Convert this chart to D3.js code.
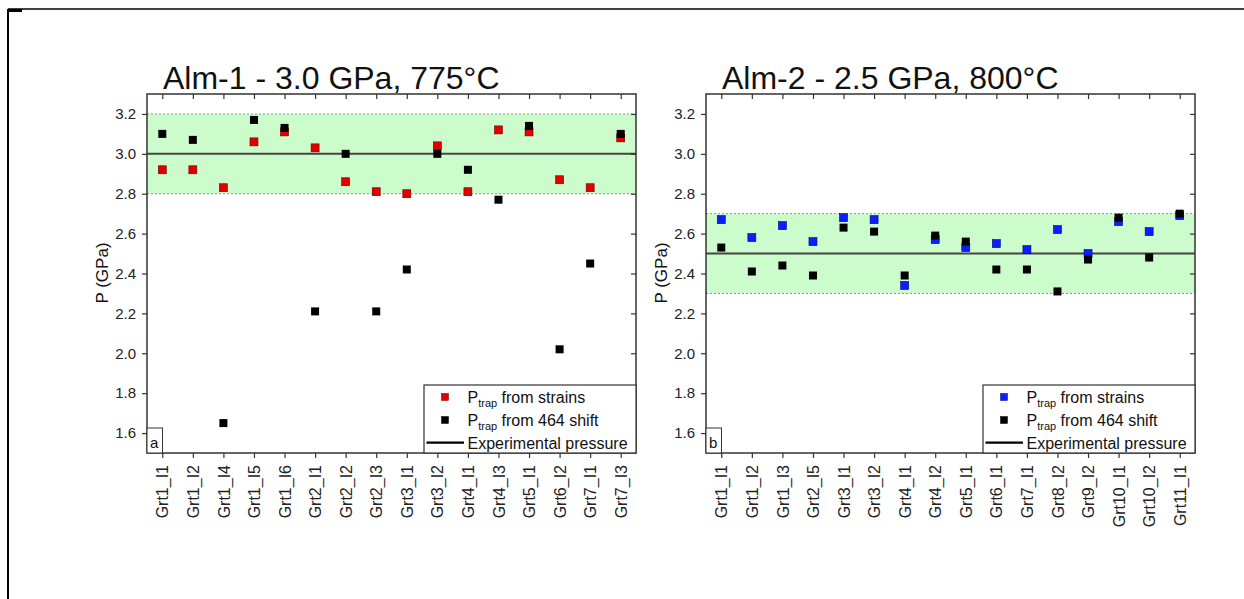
<!DOCTYPE html>
<html>
<head>
<meta charset="utf-8">
<script src="https://cdn.jsdelivr.net/npm/d3@7/dist/d3.min.js"></script>
<style>
  body { margin: 0; background: #fff; }
  svg { font-family: "Liberation Sans", Arial, sans-serif; }
</style>
</head>
<body>
<svg width="1244" height="599"></svg>
<script>
const width = 1244;
const height = 599;

// panel a: Alm-1
const catsA = ["Grt1_I1", "Grt1_I2", "Grt1_I4", "Grt1_I5", "Grt1_I6", "Grt2_I1", "Grt2_I2", "Grt2_I3",
               "Grt3_I1", "Grt3_I2", "Grt4_I1", "Grt4_I3", "Grt5_I1", "Grt6_I2", "Grt7_I1", "Grt7_I3"];
const strainsA = [2.92, 2.92, 2.83, 3.06, 3.11, 3.03, 2.86, 2.81, 2.80, 3.04, 2.81, 3.12, 3.11, 2.87, 2.83, 3.08];
const shiftA   = [3.10, 3.07, 1.65, 3.17, 3.13, 2.21, 3.00, 2.21, 2.42, 3.00, 2.92, 2.77, 3.14, 2.02, 2.45, 3.10];

// panel b: Alm-2
const catsB = ["Grt1_I1", "Grt1_I2", "Grt1_I3", "Grt2_I5", "Grt3_I1", "Grt3_I2", "Grt4_I1", "Grt4_I2",
               "Grt5_I1", "Grt6_I1", "Grt7_I1", "Grt8_I2", "Grt9_I2", "Grt10_I1", "Grt10_I2", "Grt11_I1"];
const strainsB = [2.67, 2.58, 2.64, 2.56, 2.68, 2.67, 2.34, 2.57, 2.53, 2.55, 2.52, 2.62, 2.50, 2.66, 2.61, 2.69];
const shiftB   = [2.53, 2.41, 2.44, 2.39, 2.63, 2.61, 2.39, 2.59, 2.56, 2.42, 2.42, 2.31, 2.47, 2.68, 2.48, 2.70];

const yTicks = [1.6, 1.8, 2.0, 2.2, 2.4, 2.6, 2.8, 3.0, 3.2];

const svg = d3.select("svg");

// outer frame (top and left edges only)
svg.append("line").attr("x1", 8).attr("x2", width).attr("y1", 9).attr("y2", 9)
  .attr("stroke", "#000").attr("stroke-width", 1.5);
svg.append("line").attr("x1", 8).attr("x2", 8).attr("y1", 9).attr("y2", height)
  .attr("stroke", "#000").attr("stroke-width", 2);
svg.append("rect").attr("x", 8).attr("y", 9).attr("width", 14).attr("height", 3).attr("fill", "#000");

const plotTop = 94, plotBottom = 453;
const y = d3.scaleLinear().domain([1.5, 3.3]).range([plotBottom, plotTop]);

drawPanel({
  x0: 147, x1: 636, cats: catsA, strains: strainsA, shift: shiftA,
  title: "Alm-1 - 3.0 GPa, 775°C", tag: "a",
  exp: 3.0, band: [2.8, 3.2], color: "#e00000", edge: "#700000"
});
drawPanel({
  x0: 706, x1: 1195, cats: catsB, strains: strainsB, shift: shiftB,
  title: "Alm-2 - 2.5 GPa, 800°C", tag: "b",
  exp: 2.5, band: [2.3, 2.7], color: "#0a1eff", edge: "#000080"
});

function drawPanel(p) {
  const x = d3.scalePoint().domain(p.cats).range([p.x0, p.x1]).padding(0.5);
  const g = svg.append("g");

  // tolerance band
  g.append("rect")
    .attr("x", p.x0).attr("width", p.x1 - p.x0)
    .attr("y", y(p.band[1])).attr("height", y(p.band[0]) - y(p.band[1]))
    .attr("fill", "#ccfccc");
  p.band.forEach(v => {
    g.append("line")
      .attr("x1", p.x0).attr("x2", p.x1).attr("y1", y(v)).attr("y2", y(v))
      .attr("stroke", "#777").attr("stroke-width", 0.8).attr("stroke-dasharray", "2,2");
  });
  // experimental pressure
  g.append("line")
    .attr("x1", p.x0).attr("x2", p.x1).attr("y1", y(p.exp)).attr("y2", y(p.exp))
    .attr("stroke", "#444").attr("stroke-width", 2);

  // axes
  const left = g.append("g").attr("transform", `translate(${p.x0},0)`)
    .call(d3.axisLeft(y).tickValues(yTicks).tickFormat(d3.format(".1f")).tickSize(5).tickPadding(6));
  const right = g.append("g").attr("transform", `translate(${p.x1},0)`)
    .call(d3.axisLeft(y).tickValues(yTicks).tickFormat("").tickSize(5));
  const topAx = g.append("g").attr("transform", `translate(0,${plotTop})`)
    .call(d3.axisBottom(x).tickFormat("").tickSize(5));
  const bottomAx = g.append("g").attr("transform", `translate(0,${plotBottom})`)
    .call(d3.axisBottom(x).tickSize(5));
  [left, right, topAx, bottomAx].forEach(a => {
    a.select(".domain").remove();
    a.selectAll("line").attr("stroke", "#333").attr("stroke-width", 1.2);
  });
  left.selectAll("text").attr("font-size", 15).attr("fill", "#222")
    .attr("font-family", "Liberation Sans, Arial, sans-serif");
  bottomAx.selectAll("text")
    .attr("transform", "rotate(-90)")
    .attr("x", -12).attr("y", 0).attr("dy", "0.35em")
    .style("text-anchor", "end")
    .attr("font-size", 16).attr("fill", "#222")
    .attr("font-family", "Liberation Sans, Arial, sans-serif");

  // plot frame
  g.append("rect")
    .attr("x", p.x0).attr("y", plotTop).attr("width", p.x1 - p.x0).attr("height", plotBottom - plotTop)
    .attr("fill", "none").attr("stroke", "#333").attr("stroke-width", 1.5);

  // points: strains first, 464 shift on top
  const s = 8;
  g.selectAll(".strain").data(p.cats).enter().append("rect")
    .attr("class", "strain")
    .attr("x", d => x(d) - s / 2)
    .attr("y", (d, i) => y(p.strains[i]) - s / 2)
    .attr("width", s).attr("height", s)
    .attr("fill", p.color).attr("stroke", p.edge).attr("stroke-width", 0.6);
  g.selectAll(".shift").data(p.cats).enter().append("rect")
    .attr("class", "shift")
    .attr("x", d => x(d) - s / 2)
    .attr("y", (d, i) => y(p.shift[i]) - s / 2)
    .attr("width", s).attr("height", s)
    .attr("fill", "#000");

  // title and y label
  svg.append("text").attr("x", p.x0 + 16).attr("y", 89)
    .attr("font-size", 32).attr("fill", "#111").text(p.title);
  svg.append("text")
    .attr("transform", `translate(${p.x0 - 39},273) rotate(-90)`)
    .attr("text-anchor", "middle").attr("font-size", 17).attr("fill", "#111")
    .text("P (GPa)");

  // panel tag
  g.append("rect").attr("x", p.x0).attr("y", 428).attr("width", 15.5).attr("height", plotBottom - 428)
    .attr("fill", "#fff").attr("stroke", "#333").attr("stroke-width", 1);
  g.append("text").attr("x", p.x0 + 3).attr("y", 448).attr("font-size", 15).attr("fill", "#111").text(p.tag);

  // legend
  const lx = p.x1 - 212;
  const lg = g.append("g");
  lg.append("rect").attr("x", lx).attr("y", 385).attr("width", p.x1 - lx).attr("height", plotBottom - 385)
    .attr("fill", "#fff").attr("stroke", "#333").attr("stroke-width", 1.2);
  const items = [
    { fill: p.color, edge: p.edge, label: " from strains", yy: 397 },
    { fill: "#000", edge: "#000", label: " from 464 shift", yy: 420 }
  ];
  items.forEach(it => {
    lg.append("rect").attr("x", lx + 21 - 3.5).attr("y", it.yy - 3.5).attr("width", 7).attr("height", 7)
      .attr("fill", it.fill).attr("stroke", it.edge).attr("stroke-width", 0.5);
    const t = lg.append("text").attr("x", lx + 43.5).attr("y", it.yy + 5.5)
      .attr("font-size", 16).attr("fill", "#111");
    t.append("tspan").text("P");
    t.append("tspan").attr("font-size", 11).attr("dy", 4).text("trap");
    t.append("tspan").attr("dy", -4).text(it.label);
  });
  lg.append("line").attr("x1", lx + 2.5).attr("x2", lx + 40).attr("y1", 442.7).attr("y2", 442.7)
    .attr("stroke", "#000").attr("stroke-width", 2.2);
  lg.append("text").attr("x", lx + 43.5).attr("y", 448.5).attr("font-size", 16).attr("fill", "#111")
    .text("Experimental pressure");
}
</script>
</body>
</html>
